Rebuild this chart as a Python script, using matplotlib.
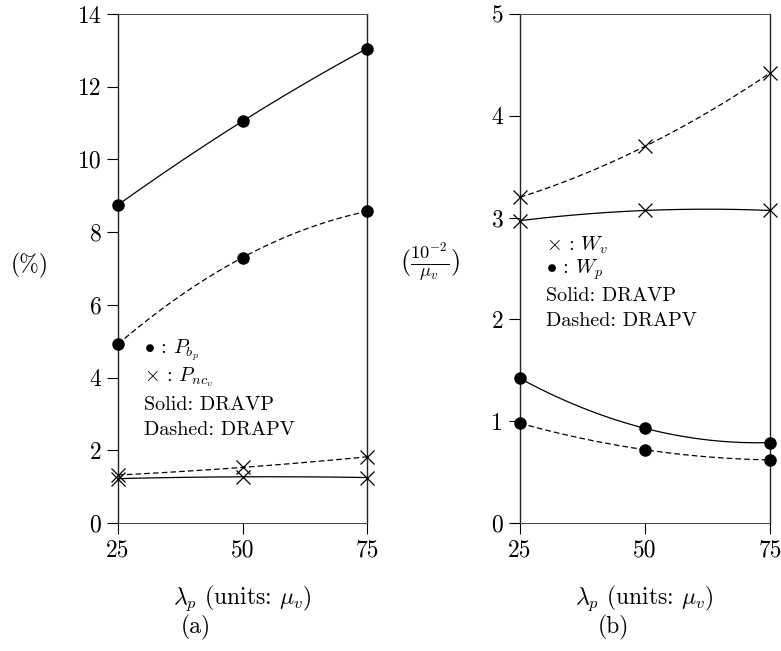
import numpy as np
import matplotlib
matplotlib.use("Agg")
import matplotlib.pyplot as plt

plt.rcParams['mathtext.fontset'] = 'cm'
plt.rcParams['font.family'] = 'cmr10'
plt.rcParams['axes.formatter.use_mathtext'] = True

# lambda_p (units: mu_v)
lam = [25, 50, 75]

# (a) blocking probabilities (%)
pbp_dravp = [8.75, 11.05, 13.05]
pbp_drapv = [4.92, 7.30, 8.57]
pncv_dravp = [1.22, 1.27, 1.25]
pncv_drapv = [1.32, 1.53, 1.82]

# (b) waiting times (10^-2 / mu_v)
wv_dravp = [2.97, 3.07, 3.07]
wv_drapv = [3.20, 3.70, 4.42]
wp_dravp = [1.42, 0.93, 0.79]
wp_drapv = [0.98, 0.72, 0.62]

xticks = [25, 50, 75]
yticks_a = [0, 2, 4, 6, 8, 10, 12, 14]
yticks_b = [0, 1, 2, 3, 4, 5]

W, H = 781, 651
fig = plt.figure(figsize=(W / 100, H / 100), dpi=100)


def px_axes(x0, x1, y0, y1):
    return fig.add_axes([x0 / W, 1 - y1 / H, (x1 - x0) / W, (y1 - y0) / H])


def smooth(ax, y, ls, marker, ms):
    # smooth curve through the three points, markers on the points
    c = np.polyfit(lam, y, 2)
    xs = np.linspace(lam[0], lam[-1], 100)
    ax.plot(xs, np.polyval(c, xs), color='black', lw=0.9, ls=ls,
            dashes=(4.5, 2.5) if ls == '--' else (None, None), clip_on=False)
    if marker == 'o':
        ax.plot(lam, y, 'o', color='black', ms=ms, clip_on=False, zorder=5)
    else:
        ax.plot(lam, y, 'x', color='black', ms=ms, mew=0.9, clip_on=False, zorder=5)


def style(ax, yticks, ymax):
    ax.set_xlim(25, 75)
    ax.set_ylim(0, ymax)
    for s in ['top', 'bottom']:
        ax.spines[s].set_linewidth(0.7)
        ax.spines[s].set_color('#444444')
    for s in ['left', 'right']:
        ax.spines[s].set_linewidth(1.0)
        ax.spines[s].set_color('#222222')
    ax.set_xticks(xticks)
    ax.set_xticklabels([str(t) for t in xticks], fontsize=17)
    ax.set_yticks(yticks)
    ax.set_yticklabels([str(t) for t in yticks], fontsize=17)
    ax.tick_params(direction='out', length=8, width=0.8, right=False, top=False, pad=4)


ax1 = px_axes(118, 367, 14, 523)
smooth(ax1, pbp_dravp, '-', 'o', 8)
smooth(ax1, pbp_drapv, '--', 'o', 8)
smooth(ax1, pncv_dravp, '-', 'x', 10)
smooth(ax1, pncv_drapv, '--', 'x', 10)
style(ax1, yticks_a, 14)

ax2 = px_axes(520, 770, 14, 523)
smooth(ax2, wv_dravp, '-', 'x', 10)
smooth(ax2, wv_drapv, '--', 'x', 10)
smooth(ax2, wp_dravp, '-', 'o', 8)
smooth(ax2, wp_drapv, '--', 'o', 8)
style(ax2, yticks_b, 5)

leg_a = [r'$\bullet$ : $P_{b_p}$', r'$\times$ : $P_{nc_v}$',
         'Solid: DRAVP', 'Dashed: DRAPV']
ya = [0.340, 0.287, 0.232, 0.183]
for t, y in zip(leg_a, ya):
    ax1.text(0.105, y, t, transform=ax1.transAxes,
             fontsize=14.5, va='center', ha='left')

leg_b = [r'$\times$ : $W_v$', r'$\bullet$ : $W_p$',
         'Solid: DRAVP', 'Dashed: DRAPV']
yb = [0.546, 0.497, 0.446, 0.397]
for t, y in zip(leg_b, yb):
    ax2.text(0.105, y, t, transform=ax2.transAxes,
             fontsize=14.5, va='center', ha='left')

fig.text(30 / W, 1 - 265 / H, '(%)', fontsize=17, ha='center', va='center')
fig.text(430 / W, 1 - 262 / H, r'$(\frac{10^{-2}}{\mu_v})$', fontsize=19,
         ha='center', va='center')

xlab = r'$\lambda_p$ (units: $\mu_v$)'
fig.text(242 / W, 1 - 598 / H, xlab, fontsize=17, ha='center', va='center')
fig.text(644 / W, 1 - 598 / H, xlab, fontsize=17, ha='center', va='center')
fig.text(196 / W, 1 - 627 / H, '(a)', fontsize=17, ha='center', va='center')
fig.text(613 / W, 1 - 627 / H, '(b)', fontsize=17, ha='center', va='center')

fig.savefig('out.png', dpi=100)
